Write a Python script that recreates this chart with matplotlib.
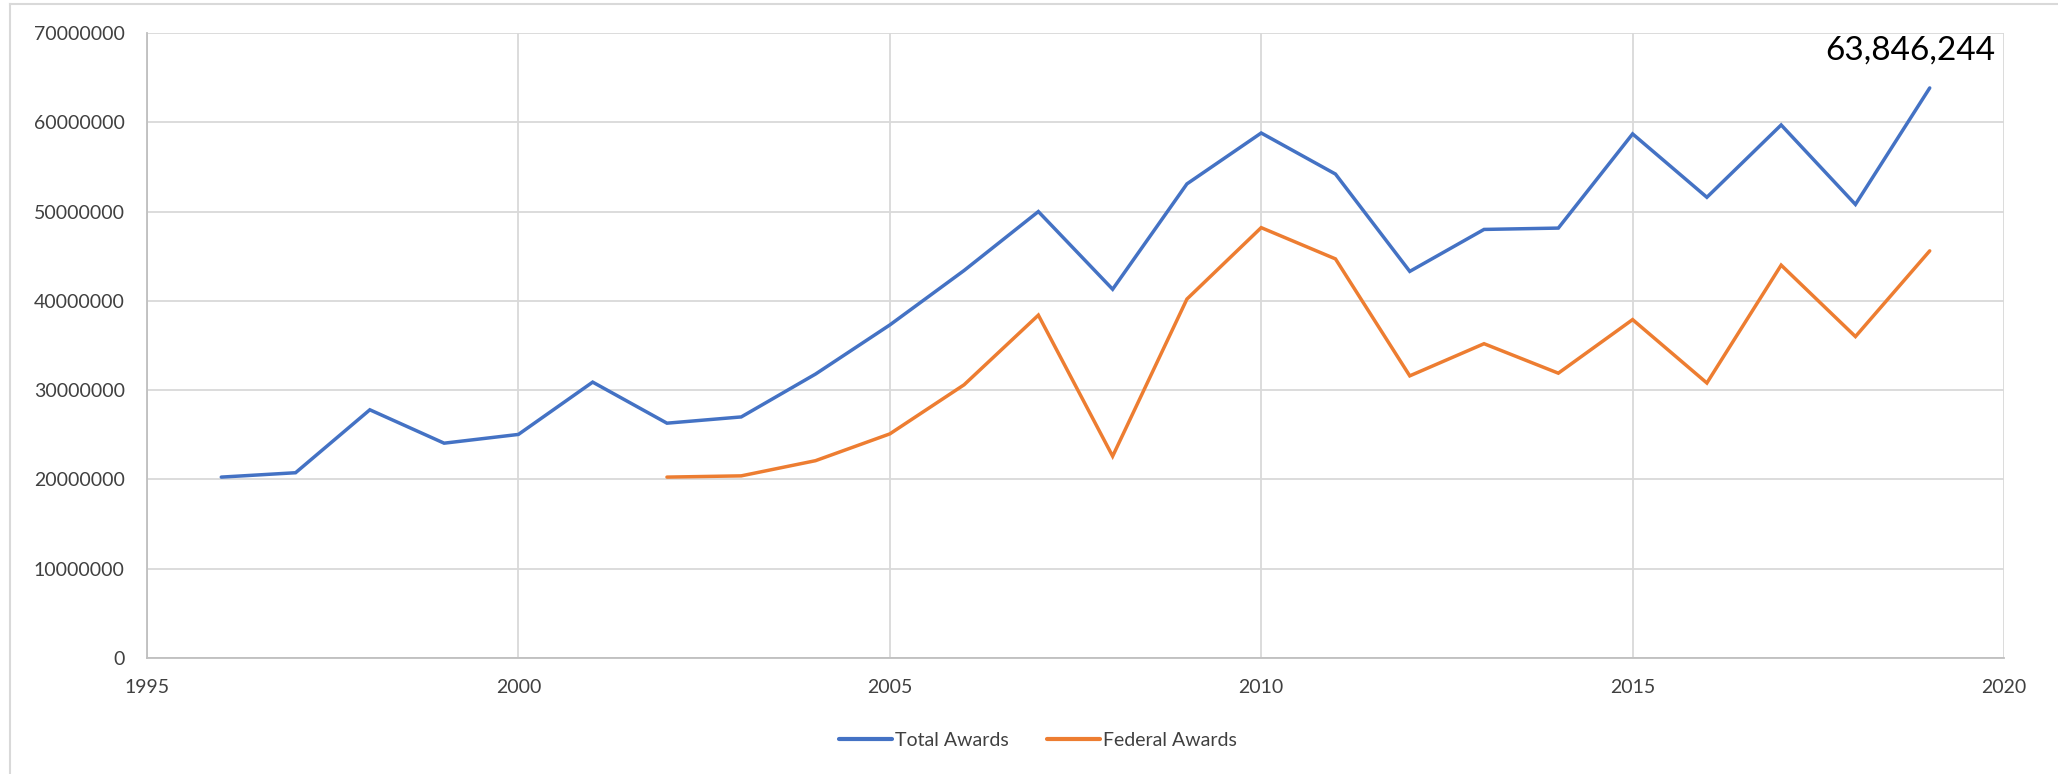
import matplotlib
matplotlib.use("Agg")
import matplotlib.pyplot as plt
from matplotlib.ticker import FuncFormatter, MultipleLocator
from matplotlib.lines import Line2D

years_total = [1996, 1997, 1998, 1999, 2000, 2001, 2002, 2003, 2004, 2005, 2006, 2007,
               2008, 2009, 2010, 2011, 2012, 2013, 2014, 2015, 2016, 2017, 2018, 2019]
total_awards = [20260000, 20750000, 27800000, 24060000, 25040000, 30900000, 26300000,
                27000000, 31800000, 37300000, 43400000, 50000000, 41300000, 53100000,
                58800000, 54200000, 43300000, 48000000, 48150000, 58700000, 51600000,
                59700000, 50800000, 63846244]

years_federal = [2002, 2003, 2004, 2005, 2006, 2007, 2008, 2009, 2010, 2011, 2012, 2013,
                 2014, 2015, 2016, 2017, 2018, 2019]
federal_awards = [20260000, 20400000, 22100000, 25100000, 30600000, 38400000, 22600000,
                  40200000, 48200000, 44700000, 31600000, 35200000, 31900000, 37900000,
                  30800000, 44000000, 36000000, 45600000]

series_names = ["Total Awards", "Federal Awards"]
annotation_text = "63,846,244"

BLUE = "#4472C4"
ORANGE = "#ED7D31"
GRID = "#D9D9D9"
TXT = "#404040"

plt.rcParams['font.family'] = ['Lato', 'DejaVu Sans']

W, H = 2058, 774
fig = plt.figure(figsize=(W / 100, H / 100), dpi=100)
ax = fig.add_axes([147 / W, 1 - 658 / H, (2004 - 147) / W, (658 - 33) / H])

ax.plot(years_total, total_awards, color=BLUE, lw=2.5, solid_capstyle='round',
        solid_joinstyle='miter', label=series_names[0], zorder=3)
ax.plot(years_federal, federal_awards, color=ORANGE, lw=2.5, solid_capstyle='round',
        solid_joinstyle='miter', label=series_names[1], zorder=3)

ax.set_xlim(1995, 2020)
ax.set_ylim(0, 70000000)
ax.xaxis.set_major_locator(MultipleLocator(5))
ax.yaxis.set_major_locator(MultipleLocator(10000000))
ax.yaxis.set_major_formatter(FuncFormatter(lambda v, p: "%d" % v))

ax.grid(True, color=GRID, lw=1.3, zorder=0)
ax.set_axisbelow(True)
for s in ["top", "right"]:
    ax.spines[s].set_visible(False)
for s in ["left", "bottom"]:
    ax.spines[s].set_color("#BFBFBF")
    ax.spines[s].set_linewidth(1.3)

ax.tick_params(axis='y', length=0, pad=16, labelsize=14, labelcolor=TXT)
ax.tick_params(axis='x', length=0, pad=15, labelsize=14, labelcolor=TXT)

ax.annotate(annotation_text, xy=(years_total[-1], total_awards[-1]),
            xytext=(-14, 27), textcoords='offset points', ha='center', va='center',
            fontsize=24, color='black', annotation_clip=False)

handles = [Line2D([0], [0], color=BLUE, lw=3, solid_capstyle='round'),
           Line2D([0], [0], color=ORANGE, lw=3, solid_capstyle='round')]
fig.legend(handles, series_names, loc='center', bbox_to_anchor=(1038 / W, 1 - 740 / H),
           ncol=2, frameon=False, fontsize=14, handlelength=2.7, columnspacing=2.0,
           handletextpad=0.15, labelcolor=TXT)

# outer chart border
fig.add_artist(Line2D([10 / W, 10 / W], [0, 1 - 4 / H], transform=fig.transFigure,
                      color="#D9D9D9", lw=1.5))
fig.add_artist(Line2D([10 / W, 1], [1 - 4 / H, 1 - 4 / H], transform=fig.transFigure,
                      color="#D9D9D9", lw=1.5))

fig.savefig("out.png", dpi=100)
